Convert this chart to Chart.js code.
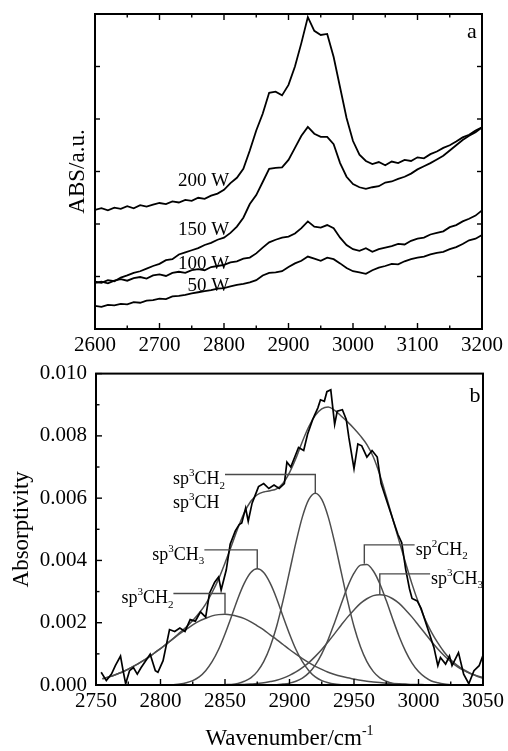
<!DOCTYPE html>
<html><head><meta charset="utf-8">
<script src="https://cdn.jsdelivr.net/npm/chart.js@4.4.1/dist/chart.umd.min.js"></script>
<style>
html,body{margin:0;padding:0;background:#fff;}
body{width:508px;height:751px;position:relative;overflow:hidden;}
.box{position:absolute;left:0;width:508px;}
#boxA{top:0;height:362px;}
#boxB{top:352px;height:399px;}
</style></head><body>
<div class="box" id="boxA"><canvas id="chartA"></canvas></div>
<div class="box" id="boxB"><canvas id="chartB"></canvas></div>
<script>
const FONT = '"Liberation Serif", "Times New Roman", serif';

// ---------- Panel a ----------
const wnA = [2600,2610,2620,2630,2640,2650,2660,2670,2680,2690,
  2700,2710,2720,2730,2740,2750,2760,2770,2780,2790,
  2800,2810,2820,2830,2840,2850,2860,2870,2880,2890,
  2900,2910,2920,2930,2940,2950,2960,2970,2980,2990,
  3000,3010,3020,3030,3040,3050,3060,3070,3080,3090,
  3100,3110,3120,3130,3140,3150,3160,3170,3180,3190,3200];
const abs200W = [2.27,2.30,2.26,2.31,2.29,2.34,2.30,2.36,2.33,2.37,
  2.40,2.38,2.43,2.41,2.46,2.44,2.50,2.48,2.54,2.58,
  2.65,2.78,2.88,3.05,3.40,3.78,4.10,4.50,4.52,4.45,
  4.65,5.00,5.45,5.94,5.68,5.60,5.62,5.18,4.60,4.02,
  3.58,3.32,3.20,3.14,3.18,3.12,3.19,3.16,3.22,3.20,
  3.27,3.25,3.33,3.38,3.45,3.50,3.57,3.65,3.70,3.78,3.84];
const abs150W = [0.90,0.88,0.93,0.91,0.98,1.02,1.07,1.10,1.15,1.20,
  1.24,1.31,1.33,1.42,1.46,1.50,1.54,1.60,1.64,1.70,
  1.74,1.83,1.95,2.12,2.38,2.55,2.80,3.05,3.07,3.08,
  3.22,3.45,3.68,3.85,3.72,3.66,3.66,3.52,3.16,2.90,
  2.76,2.70,2.67,2.70,2.72,2.79,2.81,2.86,2.90,2.96,
  3.04,3.10,3.16,3.23,3.30,3.40,3.50,3.60,3.68,3.75,3.84];
const abs100W = [0.88,0.90,0.87,0.92,0.95,0.92,0.97,0.99,0.96,1.02,
  1.04,1.01,1.07,1.09,1.07,1.12,1.14,1.12,1.18,1.20,
  1.22,1.27,1.29,1.34,1.36,1.44,1.55,1.65,1.70,1.74,
  1.76,1.82,1.92,2.05,1.95,1.93,1.98,1.92,1.74,1.60,
  1.52,1.49,1.54,1.47,1.52,1.55,1.58,1.62,1.61,1.68,
  1.72,1.74,1.80,1.83,1.86,1.94,1.98,2.05,2.10,2.16,2.26];
const abs50W = [0.44,0.42,0.46,0.45,0.48,0.47,0.51,0.50,0.54,0.55,
  0.58,0.57,0.62,0.63,0.65,0.68,0.70,0.72,0.74,0.77,
  0.78,0.81,0.84,0.86,0.89,0.93,1.02,1.07,1.08,1.10,
  1.18,1.25,1.30,1.38,1.34,1.30,1.36,1.33,1.25,1.16,
  1.10,1.08,1.05,1.12,1.17,1.20,1.24,1.23,1.29,1.33,
  1.36,1.38,1.42,1.45,1.47,1.52,1.56,1.62,1.69,1.72,1.79];
const powerLabels = ['200 W','150 W','100 W','50 W'];
const powerLabelAbs = [2.84, 1.92, 1.26, 0.84];
const powerLabelWn = 2808;

// ---------- Panel b ----------
const specWn = [2754,2758,2762,2765,2769,2771,2773,2776,2779,2782,2785,2792,2796,2798,2802,
  2807,2811,2815,2819,2823,2827,2831,2835,2838,2842,2845,2847,2851,2854,2858,2861,2863,2866,2868,
  2871,2873,2876,2880,2884,2888,2892,2896,2898,2901,2905,2907,2911,2914,2918,2922,2924,2927,2929,
  2932,2935,2937,2941,2944,2946,2950,2953,2956,2960,2964,2968,2971,2976,2981,2984,2987,2990,2993,
  2995,2999,3002,3007,3012,3015,3017,3021,3024,3026,3031,3035,3039,3043,3047,3050];
const specAbs = [0.00041,0.00014,0.00035,0.00062,0.00093,0.00046,0.00004,0.00046,0.00056,0.00035,0.00056,0.00099,0.00046,0.00041,0.00078,
  0.00178,0.00172,0.00183,0.00172,0.00210,0.00205,0.00235,0.00218,0.00295,0.00330,0.00347,0.00305,0.00370,0.00452,0.00495,0.00515,0.00520,0.00568,0.00526,
  0.00584,0.00605,0.00637,0.00647,0.00631,0.00642,0.00631,0.00647,0.00716,0.00700,0.00742,0.00763,0.00753,0.00805,0.00853,0.00890,0.00916,0.00911,0.00942,
  0.00948,0.00837,0.00879,0.00884,0.00853,0.00795,0.00695,0.00774,0.00768,0.00732,0.00753,0.00732,0.00647,0.00584,0.00521,0.00484,0.00457,0.00373,0.00309,
  0.00278,0.00270,0.00246,0.00183,0.00120,0.00062,0.00088,0.00067,0.00093,0.00062,0.00104,0.00035,0.00004,0.00046,0.00062,0.00095];

const fitWn = [2755,2760,2765,2770,2775,2780,2785,2790,2795,2800,
  2805,2810,2815,2820,2825,2830,2835,2840,2845,2850,
  2855,2860,2865,2870,2875,2880,2885,2890,2895,2900,
  2905,2910,2915,2920,2925,2930,2935,2940,2945,2950,
  2955,2960,2965,2970,2975,2980,2985,2990,2995,3000,
  3005,3010,3015,3020,3025,3030,3035,3040,3045,3050];
const fitSum = [0.00020,0.00026,0.00033,0.00041,0.00051,0.00062,0.00074,0.00087,0.00102,0.00117,
  0.00133,0.00150,0.00168,0.00186,0.00207,0.00231,0.00260,0.00297,0.00340,0.00392,
  0.00447,0.00504,0.00554,0.00590,0.00611,0.00620,0.00624,0.00630,0.00648,0.00682,
  0.00728,0.00782,0.00830,0.00866,0.00887,0.00893,0.00882,0.00864,0.00845,0.00824,
  0.00800,0.00772,0.00732,0.00675,0.00606,0.00534,0.00462,0.00392,0.00324,0.00264,
  0.00212,0.00170,0.00135,0.00105,0.00081,0.00063,0.00049,0.00038,0.00029,0.00022];
const fitCH2a = [0.00020,0.00026,0.00033,0.00041,0.00051,0.00062,0.00074,0.00087,0.00102,0.00117,
  0.00133,0.00149,0.00165,0.00179,0.00193,0.00205,0.00214,0.00222,0.00226,0.00227,
  0.00225,0.00220,0.00213,0.00203,0.00190,0.00177,0.00161,0.00146,0.00130,0.00114,
  0.00099,0.00085,0.00072,0.00060,0.00050,0.00041,0.00034,0.00028,0.00023,0.00019,
  0.00015,0.00012,0.00010,0.00008,0.00006,0.00005,0.00004,0.00003,0.00002,0.00002,
  0.00001,0.00001,null,null,null,null,null,null,null,null];
const fitCH3a = [null,null,null,null,null,null,null,null,null,null,
  null,0.00001,0.00003,0.00007,0.00014,0.00026,0.00046,0.00075,0.00114,0.00164,
  0.00220,0.00278,0.00327,0.00361,0.00373,0.00361,0.00327,0.00278,0.00220,0.00164,
  0.00114,0.00075,0.00046,0.00026,0.00014,0.00007,0.00003,0.00001,null,null,
  null,null,null,null,null,null,null,null,null,null,
  null,null,null,null,null,null,null,null,null,null];
const fitCH2b = [null,null,null,null,null,null,null,null,null,null,
  null,null,null,null,null,null,null,null,null,0.00001,
  0.00002,0.00005,0.00012,0.00023,0.00043,0.00075,0.00123,0.00188,0.00271,0.00364,
  0.00458,0.00540,0.00596,0.00616,0.00596,0.00540,0.00458,0.00364,0.00271,0.00188,
  0.00123,0.00075,0.00043,0.00023,0.00012,0.00005,0.00002,0.00001,null,null,
  null,null,null,null,null,null,null,null,null,null];
const fitSp2CH2 = [null,null,null,null,null,null,null,null,null,null,
  null,null,null,null,null,null,null,null,null,null,
  null,null,null,null,null,null,null,0.00001,0.00003,0.00006,
  0.00012,0.00022,0.00039,0.00064,0.00100,0.00146,0.00201,0.00259,0.00315,0.00359,
  0.00385,0.00387,0.00366,0.00325,0.00271,0.00212,0.00156,0.00108,0.00070,0.00043,
  0.00025,0.00013,0.00007,0.00003,0.00001,null,null,null,null,null];
const fitCH3b = [null,null,null,null,null,null,null,null,null,null,
  null,null,null,null,null,null,null,null,null,null,
  null,0.00001,0.00002,0.00003,0.00005,0.00007,0.00011,0.00015,0.00022,0.00031,
  0.00042,0.00056,0.00072,0.00092,0.00114,0.00139,0.00165,0.00192,0.00218,0.00241,
  0.00262,0.00277,0.00287,0.00290,0.00287,0.00277,0.00262,0.00241,0.00218,0.00192,
  0.00166,0.00140,0.00116,0.00094,0.00075,0.00059,0.00047,0.00037,0.00030,0.00024];

const annText = ['sp^3CH_2','sp^3CH_3','sp^3CH_2','sp^2CH_2','sp^3CH_3'];
const annText2 = 'sp^3CH';
const annPeakWn = [2850, 2875, 2920, 2958, 2970];
const annPeakAbs = [0.00229, 0.00373, 0.00616, 0.00389, 0.00290];
const annLevelAbs = [0.00294, 0.00434, 0.00676, 0.00450, 0.00357];
const annEndWn = [2810, 2834, 2850, 2997, 3009];
const annSide = ['left','left','left','right','right'];

// ---------- helpers ----------
const pts = (xs, ys) => xs.map((v, i) => ({x: v, y: ys[i]}));

function parseRich(s) {
  const parts = [];
  let buf = '';
  for (let i = 0; i < s.length; i++) {
    const c = s[i];
    if (c === '^' || c === '_') {
      if (buf) { parts.push([buf, '']); buf = ''; }
      let j = i + 1, t = '';
      if (s[j] === '-') { t += '-'; j++; }
      t += s[j];
      parts.push([t, c === '^' ? 'sup' : 'sub']);
      i = j;
    } else buf += c;
  }
  if (buf) parts.push([buf, '']);
  return parts;
}
function drawRich(ctx, str, x, y, align, size) {
  const parts = parseRich(str);
  const small = Math.round(size * 0.6);
  const widths = parts.map(([t, m]) => { ctx.font = (m ? small : size) + 'px ' + FONT; return ctx.measureText(t).width; });
  const total = widths.reduce((a, b) => a + b, 0);
  let cx = align === 'right' ? x - total : (align === 'center' ? x - total / 2 : x);
  const start = cx;
  ctx.textAlign = 'left';
  ctx.textBaseline = 'alphabetic';
  parts.forEach(([t, m], i) => {
    ctx.font = (m ? small : size) + 'px ' + FONT;
    const dy = m === 'sup' ? -size * 0.45 : (m === 'sub' ? size * 0.25 : 0);
    ctx.fillText(t, cx, y + dy);
    cx += widths[i];
  });
  return {start, end: cx};
}

const framePlugin = {
  id: 'frame',
  afterDatasetsDraw(chart, args, o) {
    const {ctx, chartArea: a, scales: {x, y}} = chart;
    ctx.save();
    ctx.strokeStyle = '#000';
    ctx.lineWidth = 1.4;
    const seg = (x1, y1, x2, y2) => { ctx.beginPath(); ctx.moveTo(x1, y1); ctx.lineTo(x2, y2); ctx.stroke(); };
    const xt = x.ticks.map(t => t.value), yt = y.ticks.map(t => t.value);
    const mids = v => v.slice(1).map((t, i) => (t + v[i]) / 2);
    xt.forEach(v => { const p = x.getPixelForValue(v); seg(p, a.bottom, p, a.bottom - o.xMajor); if (o.mirror) seg(p, a.top, p, a.top + o.xMajor); });
    mids(xt).forEach(v => { const p = x.getPixelForValue(v); seg(p, a.bottom, p, a.bottom - o.xMinor); if (o.mirror) seg(p, a.top, p, a.top + o.xMinor); });
    yt.forEach(v => { const p = y.getPixelForValue(v); seg(a.left, p, a.left + o.yMajor, p); if (o.mirror) seg(a.right, p, a.right - o.yMajor, p); });
    if (o.yMinor) mids(yt).forEach(v => { const p = y.getPixelForValue(v); seg(a.left, p, a.left + o.yMinor, p); if (o.mirror) seg(a.right, p, a.right - o.yMinor, p); });
    ctx.lineWidth = 2;
    ctx.strokeRect(a.left, a.top, a.right - a.left, a.bottom - a.top);
    ctx.restore();
  }
};

const labelsA = {
  id: 'labelsA',
  afterDatasetsDraw(chart) {
    const {ctx, chartArea: a, scales: {x, y}} = chart;
    ctx.save();
    ctx.fillStyle = '#000';
    ctx.font = '19px ' + FONT;
    ctx.textAlign = 'right';
    ctx.textBaseline = 'alphabetic';
    powerLabels.forEach((t, i) => {
      ctx.fillText(t, x.getPixelForValue(powerLabelWn), y.getPixelForValue(powerLabelAbs[i]) + 6.5);
    });
    ctx.font = '22px ' + FONT;
    ctx.textAlign = 'center';
    ctx.fillText('a', a.right - 10, a.top + 24);
    ctx.restore();
  }
};

const labelsB = {
  id: 'labelsB',
  afterDatasetsDraw(chart) {
    const {ctx, chartArea: a, scales: {x, y}} = chart;
    ctx.save();
    ctx.strokeStyle = '#4a4a4a';
    ctx.lineWidth = 1.4;
    ctx.fillStyle = '#000';
    annText.forEach((t, i) => {
      const px = x.getPixelForValue(annPeakWn[i]);
      const pk = y.getPixelForValue(annPeakAbs[i]);
      const lv = y.getPixelForValue(annLevelAbs[i]);
      const ex = x.getPixelForValue(annEndWn[i]);
      ctx.beginPath(); ctx.moveTo(ex, lv); ctx.lineTo(px, lv); ctx.lineTo(px, pk); ctx.stroke();
      const left = annSide[i] === 'left';
      const r = drawRich(ctx, t, left ? ex : ex + 1, lv + 10, left ? 'right' : 'left', 18);
      if (i === 2) drawRich(ctx, annText2, r.start, lv + 34, 'left', 18);
    });
    ctx.fillStyle = '#000';
    ctx.font = '22px ' + FONT;
    ctx.textAlign = 'center';
    ctx.textBaseline = 'alphabetic';
    ctx.fillText('b', a.right - 8, a.top + 28);
    drawRich(ctx, 'Wavenumber/cm^-1', (a.left + a.right) / 2, chart.height - 6, 'center', 23);
    ctx.restore();
  }
};

const tickFont = {family: FONT, size: 21};
const titleFont = {family: FONT, size: 23};

new Chart(document.getElementById('chartA'), {
  type: 'line',
  data: {datasets: [
    {data: pts(wnA, abs200W)},
    {data: pts(wnA, abs150W)},
    {data: pts(wnA, abs100W)},
    {data: pts(wnA, abs50W)}
  ]},
  options: {
    responsive: true, maintainAspectRatio: false, animation: false,
    layout: {padding: {top: 14, right: 26, left: 0, bottom: 0}},
    elements: {point: {radius: 0}, line: {borderWidth: 1.8, borderColor: '#000', tension: 0}},
    plugins: {legend: {display: false}, tooltip: {enabled: false},
      frame: {xMajor: 6, xMinor: 3.5, yMajor: 5, yMinor: 0, mirror: true}},
    scales: {
      x: {type: 'linear', min: 2600, max: 3200,
        ticks: {stepSize: 100, font: tickFont, color: '#000', padding: 4, maxRotation: 0, autoSkip: false, callback: v => String(v)},
        grid: {display: false, drawTicks: false}, border: {display: false},
        afterFit(s) { s.height = 33; }},
      y: {type: 'linear', min: 0, max: 6,
        ticks: {display: false, stepSize: 1},
        grid: {display: false, drawTicks: false}, border: {display: false},
        title: {display: true, text: 'ABS/a.u.', font: titleFont, color: '#000', padding: {top: 64, bottom: 0}},
        afterFit(s) { s.width = 95; }}
    }
  },
  plugins: [framePlugin, labelsA]
});

const gray = '#4d4d4d';
new Chart(document.getElementById('chartB'), {
  type: 'line',
  data: {datasets: [
    {data: pts(specWn, specAbs), borderColor: '#000', borderWidth: 1.7, tension: 0},
    {data: pts(fitWn, fitSum), borderColor: gray, borderWidth: 1.5, cubicInterpolationMode: 'monotone'},
    {data: pts(fitWn, fitCH2a), borderColor: gray, borderWidth: 1.5, cubicInterpolationMode: 'monotone'},
    {data: pts(fitWn, fitCH3a), borderColor: gray, borderWidth: 1.5, cubicInterpolationMode: 'monotone'},
    {data: pts(fitWn, fitCH2b), borderColor: gray, borderWidth: 1.5, cubicInterpolationMode: 'monotone'},
    {data: pts(fitWn, fitSp2CH2), borderColor: gray, borderWidth: 1.5, cubicInterpolationMode: 'monotone'},
    {data: pts(fitWn, fitCH3b), borderColor: gray, borderWidth: 1.5, cubicInterpolationMode: 'monotone'}
  ]},
  options: {
    responsive: true, maintainAspectRatio: false, animation: false,
    layout: {padding: {top: 17, right: 25, left: 0, bottom: 0}},
    elements: {point: {radius: 0}},
    plugins: {legend: {display: false}, tooltip: {enabled: false},
      frame: {xMajor: 6, xMinor: 3.5, yMajor: 6, yMinor: 3.5, mirror: false}},
    scales: {
      x: {type: 'linear', min: 2750, max: 3050,
        ticks: {stepSize: 50, font: tickFont, color: '#000', padding: 4, maxRotation: 0, autoSkip: false, callback: v => String(v)},
        grid: {display: false, drawTicks: false}, border: {display: false},
        afterFit(s) { s.height = 66; }},
      y: {type: 'linear', min: 0, max: 0.01,
        ticks: {stepSize: 0.002, font: tickFont, color: '#000', padding: 9, callback: v => Number(v).toFixed(3)},
        grid: {display: false, drawTicks: false}, border: {display: false},
        title: {display: true, text: 'Absorptivity', font: titleFont, color: '#000', padding: {top: 8, bottom: 0}},
        afterFit(s) { s.width = 96; }}
    }
  },
  plugins: [framePlugin, labelsB]
});
</script>
</body></html>
